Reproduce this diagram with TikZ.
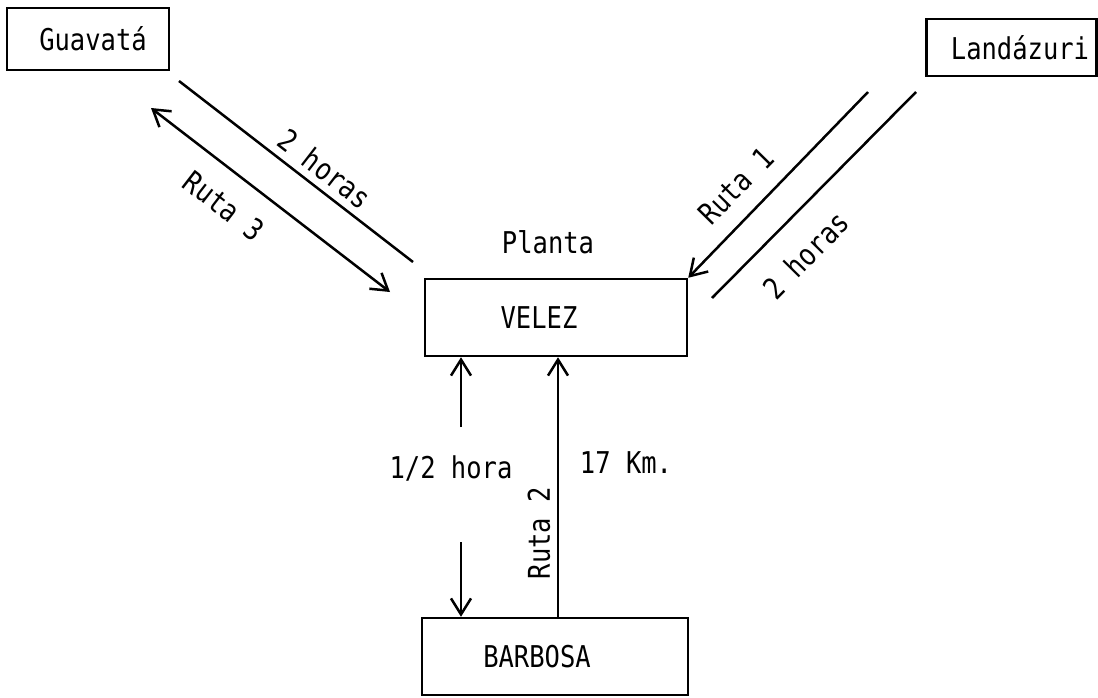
\documentclass[tikz,border=0pt]{standalone}
\usepackage{fontspec}
\setmainfont{DejaVu Sans Mono}[FakeStretch=0.85]
\usetikzlibrary{arrows.meta,positioning}

\tikzset{
  place/.style={draw, line width=2.5pt, inner sep=0pt, font=\fontsize{30}{32}\selectfont},
  tag/.style={inner sep=0pt, font=\fontsize{30}{32}\selectfont},
  route/.style={line width=2.5pt},
}

\begin{document}
\begin{tikzpicture}[x=1pt, y=-1pt, >={Straight Barb[length=16pt, width=20pt]}]
        \useasboundingbox (0,0) rectangle (1098,697);

        % Towns and plant
        \node[place, minimum width=162pt, minimum height=62pt] (guavata) at (88,39) {\hspace*{10pt}Guavatá};
        \node[place, minimum width=170pt, minimum height=57pt] (landazuri) at (1011.5,47.5) {\hspace*{17pt}Landázuri};
        \node[place, minimum width=262pt, minimum height=77pt] (velez) at (556,317.5) {VELEZ\hspace*{34pt}};
        \node[place, minimum width=266pt, minimum height=77pt] (barbosa) at (555,656.5) {BARBOSA\hspace*{36pt}};
        \node[tag] (planta) at (548,242) {Planta};

        % Ruta 3: Guavata - Velez
        \coordinate (r3a) at (151,108);
        \coordinate (r3b) at (390,292);
        \coordinate (h3a) at (179,81);
        \coordinate (h3b) at (413,262);
        \draw[route, <->] (r3a) -- (r3b);
        \draw[route] (h3a) -- (h3b);
        \node[tag, rotate=-37.7] (ruta3) at (224,206) {Ruta 3};
        \node[tag, rotate=-37.7] (horas3) at (325,169) {2 horas};

        % Ruta 1: Landazuri - Velez
        \coordinate (r1a) at (868,92);
        \coordinate (h1a) at (916,92);
        \coordinate (h1b) at (712,298);
        \draw[route, ->] (r1a) -- (velez.north east);
        \draw[route] (h1a) -- (h1b);
        \node[tag, rotate=45.5] (ruta1) at (736,186) {Ruta 1};
        \node[tag, rotate=45.5] (horas1) at (806,255) {2 horas};

        % Ruta 2: Barbosa - Velez
        \coordinate (up2) at (461,427);
        \coordinate (dn2) at (461,542);
        \coordinate (r2) at (558,600);
        \draw[route, ->] (up2) -- (up2 |- velez.south);
        \draw[route, ->] (dn2) -- (dn2 |- barbosa.north);
        \draw[route, ->] (r2 |- barbosa.north) -- (r2 |- velez.south);
        \node[tag] (media) at (451,468) {1/2 hora};
        \node[tag] (km) at (626,463) {17 Km.};
        \node[tag, rotate=90] (ruta2) at (539,533) {Ruta 2};
    \end{tikzpicture}
\end{document}
